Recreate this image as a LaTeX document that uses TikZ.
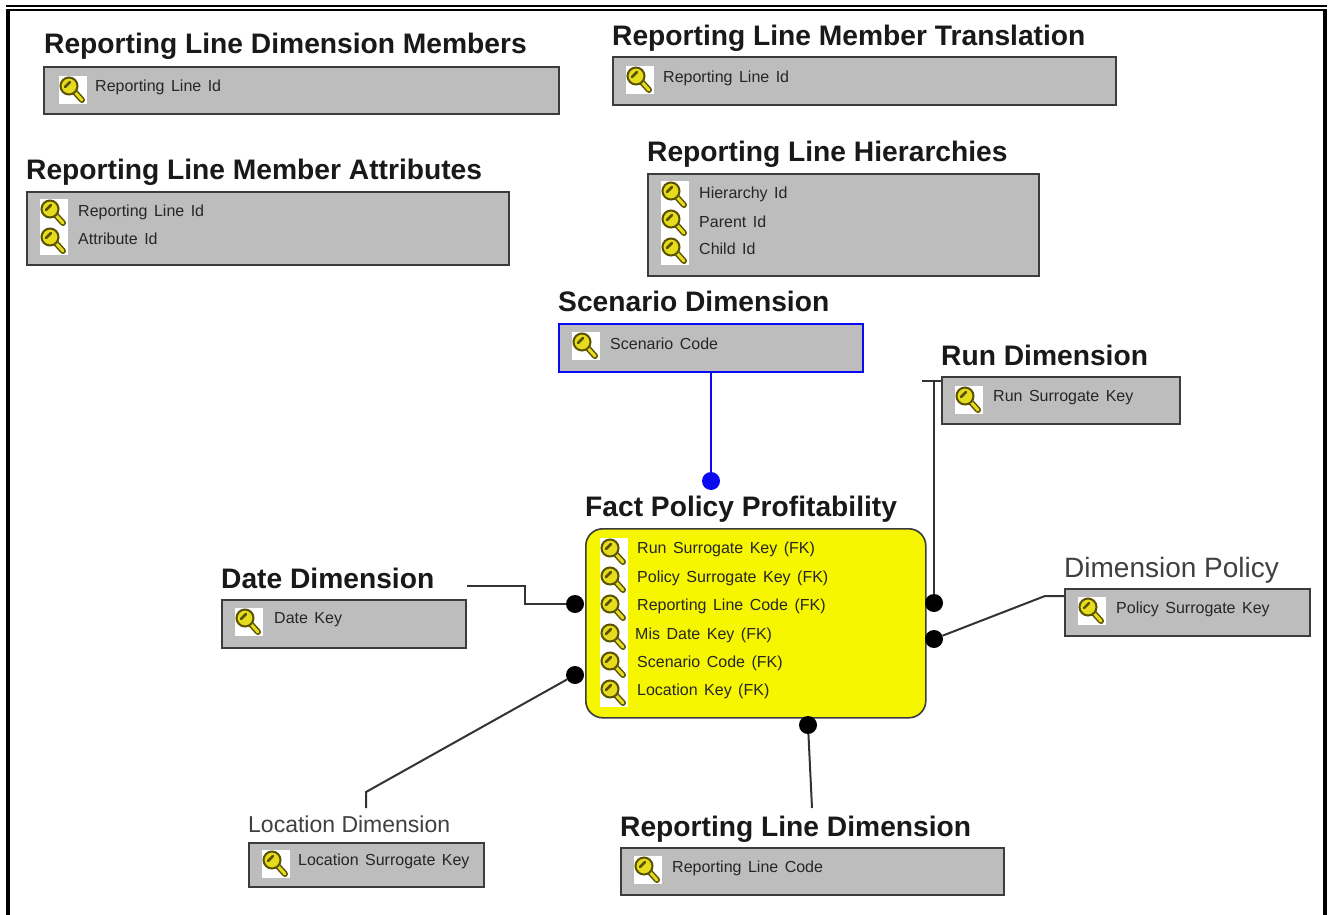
\documentclass[tikz,border=0pt]{standalone}
\usepackage{fontspec}
\setmainfont{Liberation Sans}
\newcommand{\rowfont}{\fontsize{16}{18}\selectfont\spaceskip 6.5pt\relax}
\tikzset{
	entbox/.style={draw=boxedge,fill=boxgrey,line width=1.6pt,anchor=north west,inner sep=0pt},
	enttitle/.style={anchor=base west,inner sep=0pt,text=black!90,font=\fontsize{28.2}{30}\selectfont\bfseries},
	lighttitle/.style={anchor=base west,inner sep=0pt,text=black!75},
	rowtext/.style={anchor=west,inner sep=0pt,text=black!85,font=\rowfont},
	conndot/.style={circle,fill=black,inner sep=0pt,minimum size=18pt},
	connline/.style={draw=black!80,line width=2pt},
	keyicon/.pic={
		\fill[white] (-14,-14) rectangle (14,14);
		\draw[keyedge,line width=6pt,line cap=round] (0,0) -- (9,10);
		\draw[keyyellow,line width=3pt,line cap=round] (0,0) -- (9,10);
		\draw[keyedge,fill=keyyellow,line width=2pt] (-4,-4) circle[radius=8.5];
		\draw[keyedge,line width=2.5pt,line cap=round] (-8,-3) -- (-3,-8);
	}
}
\definecolor{boxgrey}{HTML}{BDBDBD}
\definecolor{boxedge}{HTML}{3C3C3C}
\definecolor{keyyellow}{HTML}{E6DC1E}
\definecolor{keyedge}{HTML}{5A5200}
\definecolor{factyellow}{HTML}{F6F600}
\definecolor{scenblue}{HTML}{0A0AF0}
\begin{document}
\begin{tikzpicture}[x=1pt,y=-1pt]
		\useasboundingbox (0,0) rectangle (1328,915);
		\fill[white] (0,0) rectangle (1328,915);
		%frame
		\fill[black] (6,5) rectangle (1327,7);
		\fill[black] (6,9) rectangle (1327,11);
		\fill[black] (6,9) rectangle (10,915);
		\fill[black] (1323,9) rectangle (1327,915);
		
		%top tables
		\node[enttitle] (dimmemberstitle) at (44,54) {Reporting Line Dimension Members};
		\node[entbox,minimum width=515pt,minimum height=47pt] (dimmembers) at (43,66) {};
		\pic at (73,90) {keyicon};
		\node[rowtext] (dimmembersid) at (95,87) {Reporting Line Id};
		
		\node[enttitle] (translationtitle) at (612,46) {Reporting Line Member Translation};
		\node[entbox,minimum width=503pt,minimum height=48pt] (translation) at (612,56) {};
		\pic at (640,80) {keyicon};
		\node[rowtext] (translationid) at (663,78) {Reporting Line Id};
		
		\node[enttitle] (attributestitle) at (26,179) {Reporting Line Member Attributes};
		\node[entbox,minimum width=482pt,minimum height=73pt] (attributes) at (26,191) {};
		\foreach \y in {213,241} \pic at (54,\y) {keyicon};
		\node[rowtext] (attributesline) at (78,212) {Reporting Line Id};
		\node[rowtext] (attributesid) at (78,239) {Attribute Id};
		
		\node[enttitle] (hierarchiestitle) at (647,161) {Reporting Line Hierarchies};
		\node[entbox,minimum width=391pt,minimum height=102pt] (hierarchies) at (647,173) {};
		\foreach \y in {195,223,251} \pic at (675,\y) {keyicon};
		\node[rowtext] (hierarchyid) at (699,194) {Hierarchy Id};
		\node[rowtext] (parentid) at (699,222) {Parent Id};
		\node[rowtext] (childid) at (699,249) {Child Id};
		
		%scenario
		\node[enttitle] (scenariotitle) at (558,311) {Scenario Dimension};
		\node[entbox,draw=scenblue,minimum width=304pt,minimum height=48pt] (scenario) at (558,323) {};
		\pic at (586,346) {keyicon};
		\node[rowtext] (scenariocode) at (610,344) {Scenario Code};
		
		%run
		\node[enttitle] (runtitle) at (941,365) {Run Dimension};
		\node[entbox,minimum width=238pt,minimum height=47pt] (run) at (941,376) {};
		\pic at (969,400) {keyicon};
		\node[rowtext] (runkey) at (993,398) {Run Surrogate Key};
		
		%fact
		\node[enttitle] (facttitle) at (585,516) {Fact Policy Profitability};
		\node[entbox,fill=factyellow,rounded corners=17pt,minimum width=340pt,minimum height=189pt] (fact) at (585,528) {};
		\fill[white] (600,538) rectangle (628,707);
		\foreach \y in {552,580,608,637,665,693} \pic at (614,\y) {keyicon};
		\node[rowtext] (factrun) at (637,549) {Run Surrogate Key (FK)};
		\node[rowtext] (factpolicy) at (637,578) {Policy Surrogate Key (FK)};
		\node[rowtext] (factline) at (637,606) {Reporting Line Code (FK)};
		\node[rowtext] (factdate) at (635,635) {Mis Date Key (FK)};
		\node[rowtext] (factscenario) at (637,663) {Scenario Code (FK)};
		\node[rowtext] (factlocation) at (637,691) {Location Key (FK)};
		
		%date
		\node[enttitle] (datetitle) at (221,588) {Date Dimension};
		\node[entbox,minimum width=244pt,minimum height=48pt] (date) at (221,599) {};
		\pic at (249,622) {keyicon};
		\node[rowtext] (datekey) at (274,620) {Date Key};
		
		%policy
		\node[lighttitle,font=\fontsize{28}{30}\selectfont] (policytitle) at (1064,577) {Dimension Policy};
		\node[entbox,minimum width=245pt,minimum height=47pt] (policy) at (1064,588) {};
		\pic at (1092,611) {keyicon};
		\node[rowtext] (policykey) at (1116,609) {Policy Surrogate Key};
		
		%location
		\node[lighttitle,font=\fontsize{23}{26}\selectfont] (locationtitle) at (248,832) {Location Dimension};
		\node[entbox,minimum width=235pt,minimum height=44pt] (location) at (248,842) {};
		\pic at (276,864) {keyicon};
		\node[rowtext] (locationkey) at (298,861) {Location Surrogate Key};
		
		%reporting line
		\node[enttitle] (linetitle) at (620,836) {Reporting Line Dimension};
		\node[entbox,minimum width=383pt,minimum height=47pt] (line) at (620,847) {};
		\pic at (648,870) {keyicon};
		\node[rowtext] (linecode) at (672,868) {Reporting Line Code};
		
		%connectors
		\node[conndot,fill=scenblue] (scenariodot) at (711,481) {};
		\node[conndot] (rundot) at (934,603) {};
		\node[conndot] (policydot) at (934,639) {};
		\node[conndot] (datedot) at (575,604) {};
		\node[conndot] (locationdot) at (575,675) {};
		\node[conndot] (linedot) at (808,725) {};
		\coordinate (runstub) at (922,381);
		\coordinate (runcorner) at (934,381);
		\coordinate (policybend) at (1045,596);
		\coordinate (policyend) at (1064,596);
		\coordinate (datestart) at (467,586);
		\coordinate (datebend) at (525,586);
		\coordinate (datebendb) at (525,604);
		\coordinate (locationbend) at (366,792);
		\coordinate (locationend) at (366,808);
		\coordinate (lineend) at (812,808);
		
		\draw[line width=2pt,scenblue] (scenario.south -| scenariodot) -- (scenariodot);
		\draw[connline] (runstub) -- (run.north west |- runstub);
		\draw[connline] (runcorner) -- (rundot);
		\draw[connline] (policydot) -- (policybend) -- (policyend);
		\draw[connline] (datestart) -- (datebend) -- (datebendb) -- (datedot);
		\draw[connline] (locationdot) -- (locationbend) -- (locationend);
		\draw[connline] (linedot) -- (lineend);
		
		\end{tikzpicture}
\end{document}
